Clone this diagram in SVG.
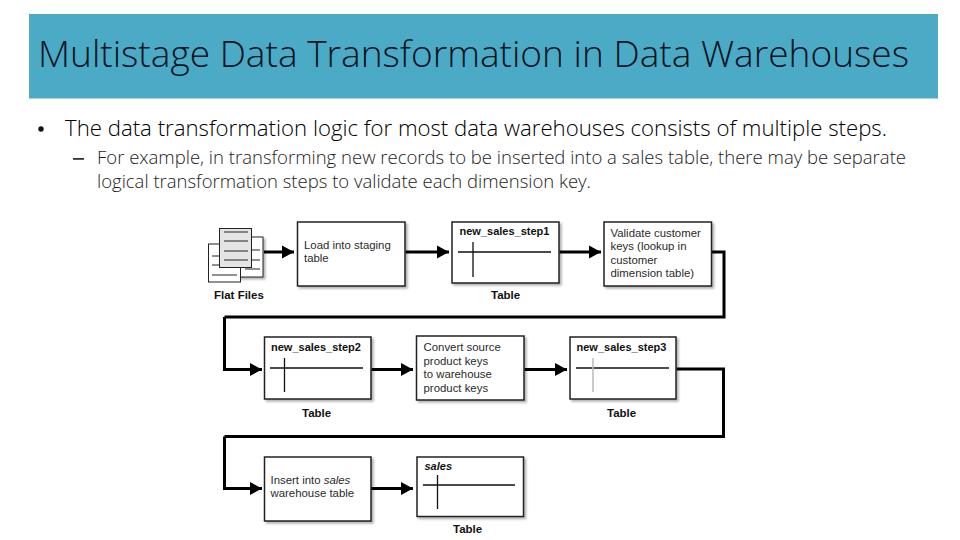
<svg xmlns="http://www.w3.org/2000/svg" width="960" height="540" viewBox="0 0 960 540">
<style>
.ui{font-family:"Open Sans","Noto Sans",sans-serif;font-weight:300}
.lb{font-family:"Liberation Sans",Arial,sans-serif;font-size:11.4px;fill:#2a2a2a}
.b{font-weight:700;fill:#111;font-size:11px}
.t{font-size:11.500px}
.box{fill:#fff;stroke:#222;stroke-width:1.5;filter:url(#sh)}
.th{stroke:#111;stroke-width:1.3;fill:none}
.c{fill:none;stroke:#000;stroke-width:3;marker-end:url(#a)}
.n{fill:none;stroke:#000;stroke-width:3}
.rule{stroke:#222;stroke-width:1}
</style>
<defs>
<filter id="sh" x="-10%" y="-10%" width="125%" height="125%"><feDropShadow dx="2" dy="2" stdDeviation="1" flood-color="#000" flood-opacity="0.3"/></filter>
<marker id="a" markerUnits="userSpaceOnUse" markerWidth="13" markerHeight="14" refX="12" refY="7" orient="auto"><path d="M0,0.500L12,7L0,13.500Z" fill="#000"/></marker>
</defs>
<rect width="960" height="540" fill="#fff"/>
<g id="header"><rect x="29" y="14" width="909" height="84.500" fill="#4babc6"/>
<text class="ui" x="38" y="67" font-size="37" fill="#06121c" textLength="871" lengthAdjust="spacingAndGlyphs">Multistage Data Transformation in Data Warehouses</text></g>
<g id="bullets">
<circle cx="41" cy="129" r="2.700" fill="#111"/>
<text class="ui" x="65" y="136" font-size="22.500" fill="#000" textLength="822" lengthAdjust="spacingAndGlyphs">The data transformation logic for most data warehouses consists of multiple steps.</text>
<rect x="73" y="158" width="11" height="1.800" fill="#333"/>
<text class="ui" x="97" y="164" font-size="18.500" fill="#1c1c1c" textLength="809" lengthAdjust="spacingAndGlyphs">For example, in transforming new records to be inserted into a sales table, there may be separate</text>
<text class="ui" x="97" y="188" font-size="18.500" fill="#1c1c1c" textLength="494" lengthAdjust="spacingAndGlyphs">logical transformation steps to validate each dimension key.</text>
</g>
<g id="connectors">
<path class="c" d="M264,252H294"/>
<path class="c" d="M405.500,252H449"/>
<path class="c" d="M559.500,252H601"/>
<path class="n" d="M712,252H724V317H224.500"/>
<path class="c" d="M224.500,317V369.500H262"/>
<path class="c" d="M371.500,369.500H413"/>
<path class="c" d="M524.500,369.500H567"/>
<path class="n" d="M676.500,369H723.500V436.500H224.500"/>
<path class="c" d="M224.500,436.500V488.500H262"/>
<path class="c" d="M371,488.500H413"/>
</g>
<g id="flat-files">
<rect x="224" y="237" width="39" height="40" fill="#fff" stroke="#222" style="filter:url(#sh)"/>
<path class="rule" d="M245,250H260M245,260H260M245,269H260"/>
<rect x="208.500" y="244" width="32" height="38" fill="#fff" stroke="#222"/>
<path class="rule" d="M212,256H237M212,265H237M212,275H237"/>
<rect x="219.500" y="228.500" width="32" height="39" fill="#e4e4e4" stroke="#222"/>
<path class="rule" d="M224,232H248M224,241H248M224,251H248M224,260H248"/>
<text class="lb b t" x="214" y="299">Flat Files</text>
</g>
<g id="load"><rect class="box" x="297.500" y="222" width="107.500" height="64"/>
<text class="lb" x="304" y="249">Load into staging</text><text class="lb" x="304" y="262">table</text></g>
<g id="step1"><rect class="box" x="452" y="222" width="107" height="61"/>
<text class="lb b" x="459.500" y="235">new_sales_step1</text>
<path class="th" d="M458,252H551M473,242V277"/>
<text class="lb b t" x="491" y="299">Table</text></g>
<g id="validate"><rect class="box" x="604" y="222" width="107.500" height="64"/>
<text class="lb" x="610.500" y="237">Validate customer</text><text class="lb" x="610.500" y="250">keys (lookup in</text><text class="lb" x="610.500" y="264">customer</text><text class="lb" x="610.500" y="277">dimension table)</text></g>
<g id="step2"><rect class="box" x="264.500" y="337" width="106.500" height="62"/>
<text class="lb b" x="271" y="351">new_sales_step2</text>
<path class="th" d="M270,368H363M284.500,358V392"/>
<text class="lb b t" x="302" y="417">Table</text></g>
<g id="convert"><rect class="box" x="416.500" y="336" width="107.500" height="64"/>
<text class="lb" x="423.500" y="351">Convert source</text><text class="lb" x="423.500" y="365">product keys</text><text class="lb" x="423.500" y="378">to warehouse</text><text class="lb" x="423.500" y="392">product keys</text></g>
<g id="step3"><rect class="box" x="570" y="337" width="106" height="62"/>
<text class="lb b" x="576.500" y="351">new_sales_step3</text>
<path class="th" d="M576,368H669"/><path d="M593,358V392" stroke="#bbb" stroke-width="1.500"/>
<text class="lb b t" x="607" y="417">Table</text></g>
<g id="insert"><rect class="box" x="264.500" y="457" width="106.500" height="64"/>
<text class="lb" x="270.500" y="484">Insert into <tspan font-style="italic">sales</tspan></text><text class="lb" x="270.500" y="497">warehouse table</text></g>
<g id="sales"><rect class="box" x="417" y="457" width="106.500" height="59.500"/>
<text class="lb b" x="424.500" y="470" font-style="italic">sales</text>
<path class="th" d="M423,485H515M437.500,475V509"/>
<text class="lb b t" x="453" y="533">Table</text></g>
</svg>
